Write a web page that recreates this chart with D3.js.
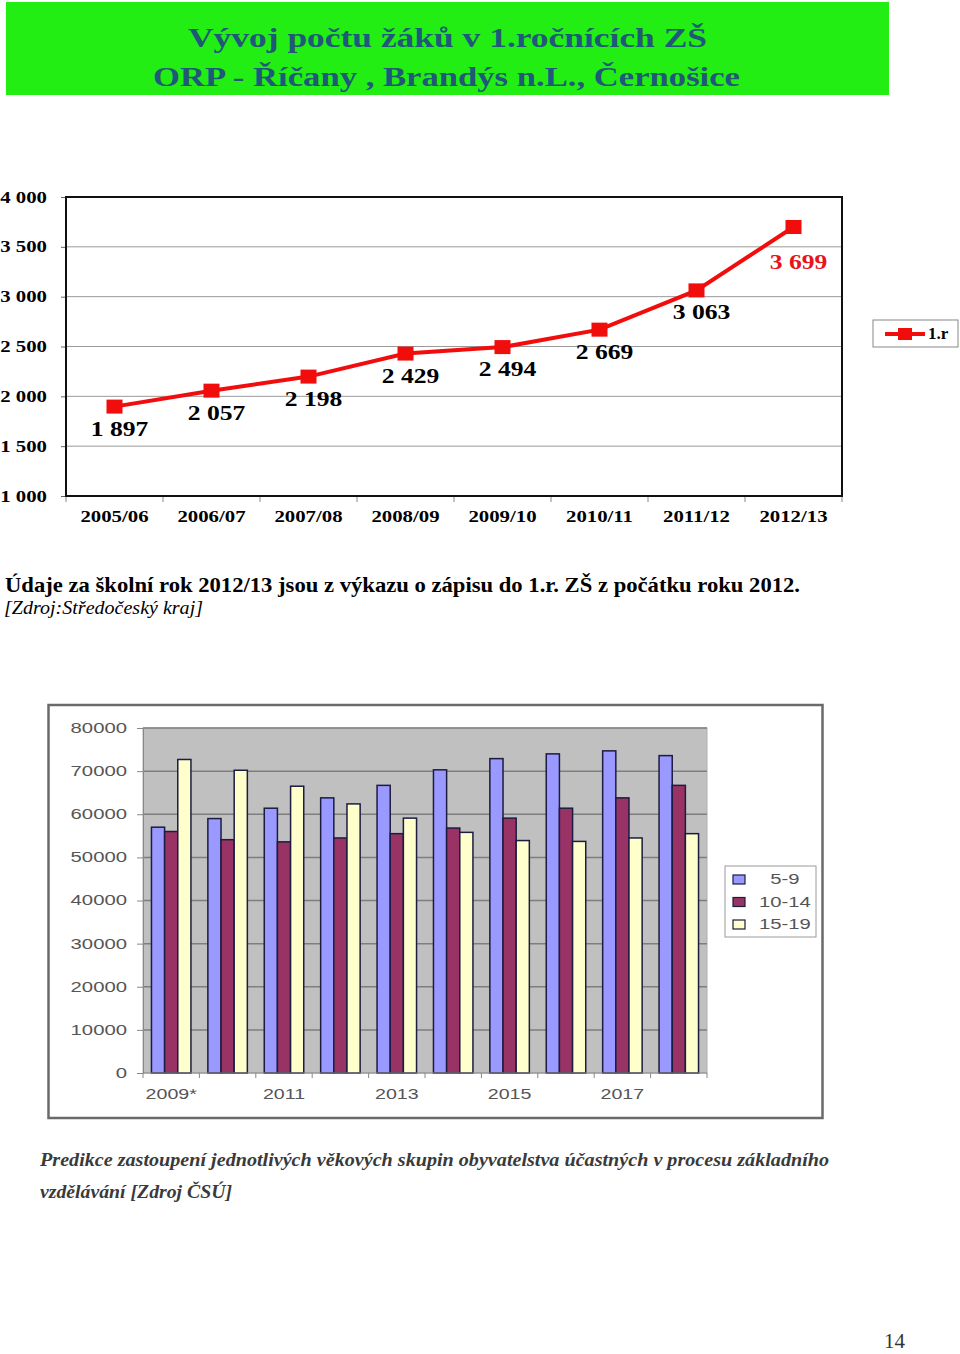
<!DOCTYPE html>
<html>
<head>
<meta charset="utf-8">
<script src="https://cdn.jsdelivr.net/npm/d3@7"></script>
<style>
  body { margin: 0; background: #fff; }
  svg { display: block; }
</style>
</head>
<body>
<div id="page"></div>
<script>
// ---- data: line chart (first graders)
var schoolYears = ["2005/06", "2006/07", "2007/08", "2008/09", "2009/10", "2010/11", "2011/12", "2012/13"];
var pupils = [1897, 2057, 2198, 2429, 2494, 2669, 3063, 3699];
var lineTicks = [1000, 1500, 2000, 2500, 3000, 3500, 4000];
var lineSeries = "1.r";

// ---- data: bar chart (age group prediction)
var predYears = ["2009*", "2010", "2011", "2012", "2013", "2014", "2015", "2016", "2017", "2018"];
var ageGroups = ["5-9", "10-14", "15-19"];
var age5to9 = [57000, 59000, 61400, 63800, 66700, 70300, 72900, 74000, 74700, 73600];
var age10to14 = [56000, 54100, 53600, 54500, 55500, 56800, 59100, 61400, 63800, 66700];
var age15to19 = [72700, 70200, 66500, 62400, 59100, 55800, 53900, 53700, 54500, 55500];
var barTicks = [0, 10000, 20000, 30000, 40000, 50000, 60000, 70000, 80000];

var W = 960, H = 1354;
var svg = d3.select("#page").append("svg").attr("width", W).attr("height", H);

var fmt = d3.formatLocale({decimal: ",", thousands: " ", grouping: [3], currency: ["", ""]}).format(",d");

// stretch text horizontally by factor k (the source page is a scaled scan)
function stretch(sel, k) {
    sel.each(function() {
        var w = this.getComputedTextLength();
        d3.select(this).attr("textLength", w * k).attr("lengthAdjust", "spacingAndGlyphs");
    });
}
function fitWidth(sel, w) {
    sel.attr("textLength", w).attr("lengthAdjust", "spacingAndGlyphs");
}

// ---------------- title banner
svg.append("rect")
    .attr("x", 6).attr("y", 2).attr("width", 883).attr("height", 93)
    .attr("fill", "#22ee14");

var titleLines = ["Vývoj počtu žáků v 1.ročnících ZŠ", "ORP - Říčany , Brandýs n.L., Černošice"];
svg.selectAll(".title").data(titleLines).enter().append("text")
    .attr("class", "title")
    .attr("x", function(d, i) { return i === 0 ? 188 : 153; })
    .attr("y", function(d, i) { return i === 0 ? 47 : 86; })
    .attr("font-family", "'Liberation Serif', serif")
    .attr("font-weight", "bold")
    .attr("font-size", 28)
    .attr("fill", "#1f5878")
    .text(function(d) { return d; })
    .each(function(d, i) { fitWidth(d3.select(this), i === 0 ? 519 : 587); });

// ---------------- line chart
var lm = {left: 66, right: 842, top: 197, bottom: 496};

var lx = d3.scaleBand().domain(schoolYears).range([lm.left, lm.right]);
var ly = d3.scaleLinear().domain([1000, 4000]).range([lm.bottom, lm.top]);

var lg = svg.append("g");

// gridlines
lg.selectAll(".grid").data(lineTicks.slice(1, -1)).enter().append("line")
    .attr("x1", lm.left).attr("x2", lm.right)
    .attr("y1", function(d) { return ly(d); }).attr("y2", function(d) { return ly(d); })
    .attr("stroke", "#9a9a9a").attr("stroke-width", 1);

// y axis
var yAxisL = lg.append("g")
    .attr("transform", "translate(" + lm.left + ",0)")
    .call(d3.axisLeft(ly).tickValues(lineTicks).tickSize(5).tickPadding(14).tickFormat(fmt));
yAxisL.select(".domain").remove();
yAxisL.selectAll(".tick line").attr("stroke", "#666");
yAxisL.selectAll("text")
    .attr("font-family", "'Liberation Serif', serif")
    .attr("font-weight", "bold")
    .attr("font-size", 16)
    .attr("fill", "#000")
    .each(function() { stretch(d3.select(this), 1.3); });

// x axis: ticks at band edges
var xAxisL = lg.append("g")
    .attr("transform", "translate(0," + lm.bottom + ")");
xAxisL.selectAll("line").data(schoolYears.concat([null])).enter().append("line")
    .attr("x1", function(d, i) { return lm.left + i * lx.step(); })
    .attr("x2", function(d, i) { return lm.left + i * lx.step(); })
    .attr("y1", 0).attr("y2", 6)
    .attr("stroke", "#888");
xAxisL.selectAll("text").data(schoolYears).enter().append("text")
    .attr("x", function(d) { return lx(d) + lx.bandwidth() / 2; })
    .attr("y", 26)
    .attr("text-anchor", "middle")
    .attr("font-family", "'Liberation Serif', serif")
    .attr("font-weight", "bold")
    .attr("font-size", 16)
    .text(function(d) { return d; })
    .each(function() { stretch(d3.select(this), 1.3); });

// plot border
lg.append("rect")
    .attr("x", lm.left).attr("y", lm.top)
    .attr("width", lm.right - lm.left).attr("height", lm.bottom - lm.top)
    .attr("fill", "none").attr("stroke", "#111").attr("stroke-width", 2);

var cx = function(d, i) { return lx(schoolYears[i]) + lx.bandwidth() / 2; };

var line = d3.line()
    .x(function(d, i) { return cx(d, i); })
    .y(function(d) { return ly(d); });

lg.append("path").datum(pupils)
    .attr("d", line)
    .attr("fill", "none")
    .attr("stroke", "#f20d0d")
    .attr("stroke-width", 4);

lg.selectAll(".marker").data(pupils).enter().append("rect")
    .attr("class", "marker")
    .attr("x", function(d, i) { return cx(d, i) - 8; })
    .attr("y", function(d) { return ly(d) - 7; })
    .attr("width", 16).attr("height", 14)
    .attr("fill", "#f20d0d");

var last = pupils.length - 1;
lg.selectAll(".vlabel").data(pupils).enter().append("text")
    .attr("class", "vlabel")
    .attr("x", function(d, i) { return cx(d, i) + 5; })
    .attr("y", function(d, i) { return ly(d) + (i === last ? 42 : 29); })
    .attr("text-anchor", "middle")
    .attr("font-family", "'Liberation Serif', serif")
    .attr("font-weight", "bold")
    .attr("font-size", 21)
    .attr("fill", function(d, i) { return i === last ? "#e8141a" : "#000"; })
    .text(function(d) { return fmt(d); })
    .each(function() { stretch(d3.select(this), 1.22); });

// legend
var ll = svg.append("g").attr("transform", "translate(873,320)");
ll.append("rect").attr("width", 85).attr("height", 27)
    .attr("fill", "#fff").attr("stroke", "#888");
ll.append("line").attr("x1", 12).attr("x2", 52).attr("y1", 14).attr("y2", 14)
    .attr("stroke", "#f20d0d").attr("stroke-width", 4);
ll.append("rect").attr("x", 25).attr("y", 8).attr("width", 14).attr("height", 12)
    .attr("fill", "#f20d0d");
ll.append("text").attr("x", 55).attr("y", 19)
    .attr("font-family", "'Liberation Serif', serif")
    .attr("font-weight", "bold").attr("font-size", 17)
    .text(lineSeries);

// ---------------- caption under line chart
svg.append("text")
    .attr("x", 5).attr("y", 592)
    .attr("font-family", "'Liberation Serif', serif")
    .attr("font-weight", "bold").attr("font-size", 21)
    .text("Údaje za školní rok 2012/13 jsou z výkazu o zápisu do 1.r. ZŠ z počátku roku 2012.")
    .call(fitWidth, 795);
svg.append("text")
    .attr("x", 4).attr("y", 614)
    .attr("font-family", "'Liberation Serif', serif")
    .attr("font-style", "italic").attr("font-size", 19)
    .text("[Zdroj:Středočeský kraj]")
    .call(fitWidth, 199);

// ---------------- bar chart
var bm = {left: 143, right: 707, top: 728, bottom: 1073};

svg.append("rect")
    .attr("x", 48.5).attr("y", 705).attr("width", 774).attr("height", 413)
    .attr("fill", "#fff").attr("stroke", "#6a6a6a").attr("stroke-width", 2.5);

var bx = d3.scaleBand().domain(predYears).range([bm.left, bm.right]).paddingInner(0.3).paddingOuter(0.15);
var bsub = d3.scaleBand().domain(ageGroups).range([0, bx.bandwidth()]);
var by = d3.scaleLinear().domain([0, 80000]).range([bm.bottom, bm.top]);
var barColors = d3.scaleOrdinal().domain(ageGroups).range(["#9999ff", "#993366", "#ffffcc"]);

var bg = svg.append("g");

bg.append("rect")
    .attr("x", bm.left).attr("y", bm.top)
    .attr("width", bm.right - bm.left).attr("height", bm.bottom - bm.top)
    .attr("fill", "#c0c0c0").attr("stroke", "#b0b0b0");

bg.selectAll(".bgrid").data(barTicks.slice(1)).enter().append("line")
    .attr("x1", bm.left).attr("x2", bm.right)
    .attr("y1", function(d) { return by(d); }).attr("y2", function(d) { return by(d); })
    .attr("stroke", "#7e7e7e").attr("stroke-width", 1.5);

var yAxisB = bg.append("g")
    .attr("transform", "translate(" + bm.left + ",0)")
    .call(d3.axisLeft(by).tickValues(barTicks).tickSize(6).tickPadding(10).tickFormat(d3.format("d")));
yAxisB.select(".domain").attr("stroke", "#888");
yAxisB.selectAll(".tick line").attr("stroke", "#888");
yAxisB.selectAll("text")
    .attr("font-family", "'Liberation Sans', Arial, sans-serif")
    .attr("font-size", 14)
    .attr("fill", "#555")
    .each(function() { stretch(d3.select(this), 1.45); });

// bars
var rows = predYears.map(function(y, i) {
    return {year: y, values: [age5to9[i], age10to14[i], age15to19[i]]};
});
var grp = bg.selectAll(".grp").data(rows).enter().append("g")
    .attr("transform", function(d) { return "translate(" + bx(d.year) + ",0)"; });
grp.selectAll("rect").data(function(d) {
        return d.values.map(function(v, j) { return {key: ageGroups[j], value: v}; });
    }).enter().append("rect")
    .attr("x", function(d) { return bsub(d.key); })
    .attr("y", function(d) { return by(d.value); })
    .attr("width", bsub.bandwidth())
    .attr("height", function(d) { return by(0) - by(d.value); })
    .attr("fill", function(d) { return barColors(d.key); })
    .attr("stroke", "#1c1c40").attr("stroke-width", 1.5);

// x axis
var xAxisB = bg.append("g").attr("transform", "translate(0," + bm.bottom + ")");
xAxisB.append("line").attr("x1", bm.left).attr("x2", bm.right).attr("stroke", "#888");
xAxisB.selectAll(".tk").data(predYears.concat([null])).enter().append("line")
    .attr("x1", function(d, i) { return bm.left + i * bx.step(); })
    .attr("x2", function(d, i) { return bm.left + i * bx.step(); })
    .attr("y1", 0).attr("y2", 5).attr("stroke", "#888");
xAxisB.selectAll("text").data(predYears.filter(function(d, i) { return i % 2 === 0; })).enter().append("text")
    .attr("x", function(d) { return bx(d) - bx.step() * 0.15 + bx.step() / 2; })
    .attr("y", 26)
    .attr("text-anchor", "middle")
    .attr("font-family", "'Liberation Sans', Arial, sans-serif")
    .attr("font-size", 14)
    .attr("fill", "#555")
    .text(function(d) { return d; })
    .each(function() { stretch(d3.select(this), 1.4); });

// legend
var bl = svg.append("g").attr("transform", "translate(725,866)");
bl.append("rect").attr("width", 91).attr("height", 71)
    .attr("fill", "#fff").attr("stroke", "#9a9a9a");
var li = bl.selectAll(".li").data(ageGroups).enter().append("g")
    .attr("transform", function(d, i) { return "translate(0," + (13 + i * 22.5) + ")"; });
li.append("rect").attr("x", 8).attr("y", -4).attr("width", 12).attr("height", 9)
    .attr("fill", function(d) { return barColors(d); })
    .attr("stroke", "#1c1c40").attr("stroke-width", 1.2);
li.append("text").attr("x", 60).attr("y", 5)
    .attr("text-anchor", "middle")
    .attr("font-family", "'Liberation Sans', Arial, sans-serif")
    .attr("font-size", 15).attr("fill", "#555")
    .text(function(d) { return d; })
    .each(function() { stretch(d3.select(this), 1.35); });

// ---------------- caption under bar chart
svg.append("text")
    .attr("x", 40).attr("y", 1166)
    .attr("font-family", "'Liberation Serif', serif")
    .attr("font-weight", "bold").attr("font-style", "italic").attr("font-size", 19)
    .attr("fill", "#3a3a3a")
    .text("Predikce zastoupení jednotlivých věkových skupin obyvatelstva účastných v procesu základního")
    .call(fitWidth, 789);
svg.append("text")
    .attr("x", 40).attr("y", 1198)
    .attr("font-family", "'Liberation Serif', serif")
    .attr("font-weight", "bold").attr("font-style", "italic").attr("font-size", 19)
    .attr("fill", "#3a3a3a")
    .text("vzdělávání [Zdroj ČSÚ]")
    .call(fitWidth, 192);

// page number
svg.append("text")
    .attr("x", 884).attr("y", 1348)
    .attr("font-family", "'Liberation Serif', serif")
    .attr("font-size", 21).attr("fill", "#333")
    .text("14");
</script>
</body>
</html>
